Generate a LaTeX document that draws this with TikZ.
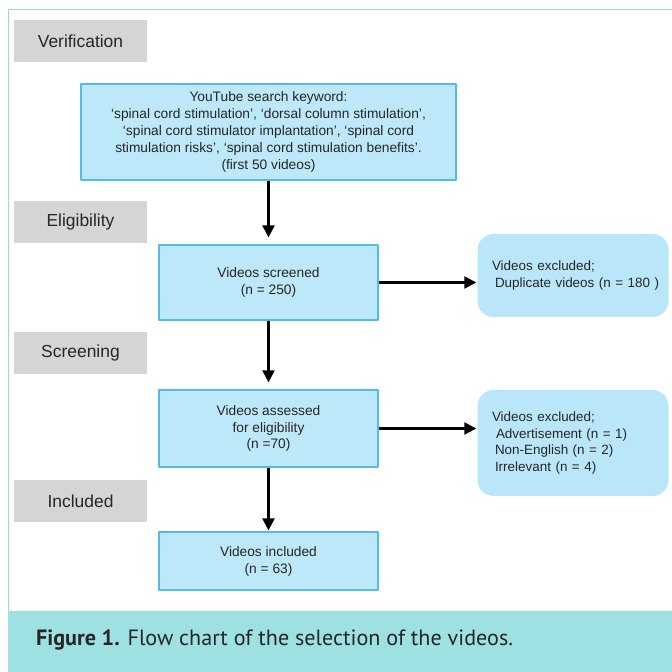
\documentclass[tikz,border=0pt]{standalone}
\usepackage{fontspec}
\setmainfont{Liberation Sans}
\newfontfamily\capfont{PT Sans}
\usepackage{tikz}
\usetikzlibrary{arrows.meta,shapes}

\definecolor{boxfill}{HTML}{BCE8FA}
\definecolor{boxline}{HTML}{55B9EA}
\definecolor{exclfill}{HTML}{B9E6F8}
\definecolor{stagefill}{HTML}{D5D5D5}
\definecolor{bandfill}{HTML}{9DE1E2}
\definecolor{frameline}{HTML}{92DDE1}

\tikzset{
  stage/.style={fill=stagefill, minimum width=133bp, minimum height=42bp,
    inner sep=0pt, text=black!85, font=\fontsize{17.5}{20}\selectfont},
  flowbox/.style={draw=boxline, fill=boxfill, line width=1.2bp, align=center,
    inner sep=0pt, text=black!85, font=\fontsize{13.8}{17}\selectfont},
  exclbox/.style={fill=exclfill, rounded corners=16bp, align=left,
    inner sep=0pt, minimum width=191bp, text width=176bp, text=black!85,
    font=\fontsize{13.5}{16.5}\selectfont},
  flow/.style={->, line width=2.2bp, shorten >=7bp},
}

\begin{document}
\begin{tikzpicture}[>={Triangle[length=12bp,width=12bp]},line join=bevel,]
\useasboundingbox (0bp,0bp) rectangle (672bp,672bp);
%%
  % Frame and caption band
  \draw [frameline, line width=1bp] (8bp,61bp) -- (8bp,662bp) -- (672bp,662bp);
  \fill [bandfill] (8bp,0bp) rectangle (672bp,61bp);
  \node [anchor=west, inner sep=0pt, text=black!85, font=\capfont\fontsize{22.2}{25}\selectfont] (cap) at (36bp,32bp)
    {\textbf{Figure 1.} Flow chart of the selection of the videos.};
%
  % Node: stages
  \node [stage] (verif) at (80.5bp,631bp) {Verification};
  \node [stage] (elig) at (80.5bp,450bp) {Eligibility};
  \node [stage] (screen) at (80.5bp,319bp) {Screening};
  \node [stage] (incl) at (80.5bp,171bp) {Included};
%
  % Node: search
  \node [flowbox, minimum width=375bp, minimum height=96bp] (search) at (268.5bp,540bp)
    {YouTube search keyword:\\
     ‘spinal cord stimulation’, ‘dorsal column stimulation’,\\
     ‘spinal cord stimulator implantation’, ‘spinal cord\\
     stimulation risks’, ‘spinal cord stimulation benefits’.\\
     (first 50 videos)};
  % Node: screened
  \node [flowbox, minimum width=219bp, minimum height=75bp] (screened) at (268.5bp,389.5bp)
    {Videos screened\\(n = 250)};
  % Node: assessed
  \node [flowbox, minimum width=219bp, minimum height=77bp] (assessed) at (268.5bp,243.5bp)
    {Videos assessed\\for eligibility\\(n =70)};
  % Node: included
  \node [flowbox, minimum width=219bp, minimum height=58bp] (included) at (268.5bp,111bp)
    {Videos included\\(n = 63)};
%
  % Node: exclusions
  \node [exclbox, minimum height=83bp] (dupl) at (573bp,396.5bp)
    {\hspace*{7bp}Videos excluded;\\\hspace*{10bp}Duplicate videos (n = 180 )};
  \node [exclbox, minimum height=106bp] (other) at (573bp,229bp)
    {\hspace*{7bp}Videos excluded;\\\hspace*{11bp}Advertisement (n = 1)\\\hspace*{10bp}Non-English (n = 2)\\\hspace*{10bp}Irrelevant (n = 4)};
%
  % Edge: search -> screened -> assessed -> included
  \draw [flow] (search) -- (screened);
  \draw [flow] (screened) -- (assessed);
  \draw [flow, shorten >=1bp] (assessed) -- (included);
  % Edge: screened -> dupl, assessed -> other
  \draw [flow, shorten >=1bp] (screened.east |- 0,389.5bp) -- (dupl.west |- 0,389.5bp);
  \draw [flow, shorten >=1bp] (assessed.east) -- (other.west |- assessed.east);
%
\end{tikzpicture}
\end{document}
